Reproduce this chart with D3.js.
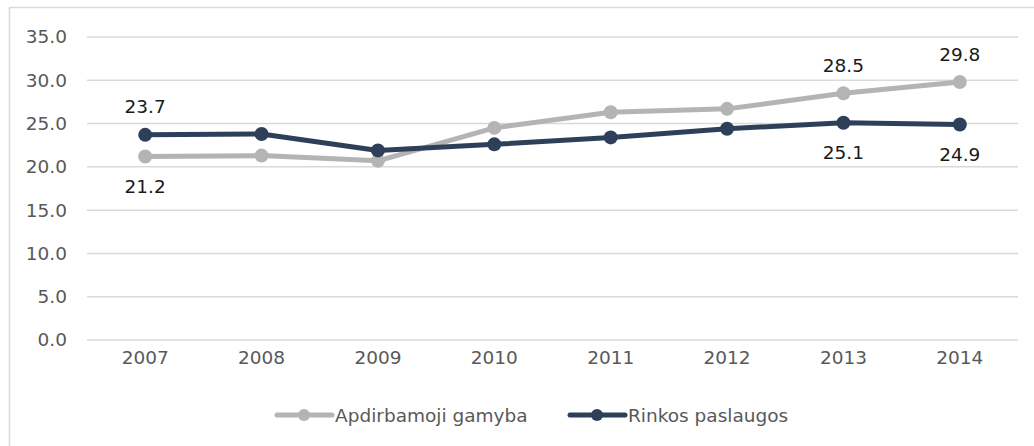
<!DOCTYPE html>
<html>
<head>
<meta charset="utf-8">
<script src="https://cdn.jsdelivr.net/npm/d3@7"></script>
<style>
  body { margin: 0; background: #fff; }
  svg text { font-family: "DejaVu Sans", sans-serif; }
</style>
</head>
<body>
<div class="vis-holder"></div>
<script>
// years on the x axis
var years = ["2007", "2008", "2009", "2010", "2011", "2012", "2013", "2014"];
// series values
var gamyba = [21.2, 21.3, 20.7, 24.5, 26.3, 26.7, 28.5, 29.8];
var paslaugos = [23.7, 23.8, 21.9, 22.6, 23.4, 24.4, 25.1, 24.9];
// y axis ticks
var yTicks = [0, 5, 10, 15, 20, 25, 30, 35];
// which points get a value label, and where
var gamybaLabels = { "2007": "below", "2013": "above", "2014": "above" };
var paslaugosLabels = { "2007": "above", "2013": "below", "2014": "below" };

var seriesNames = ["Apdirbamoji gamyba", "Rinkos paslaugos"];
var seriesColors = ["#b4b4b4", "#2e3f59"];

// svg width
var width = 1034;
// svg height
var height = 446;
var margin = { top: 37, bottom: 106, left: 87, right: 16 };
var fontSize = "18.5px";

var svg = d3.select(".vis-holder")
            .append("svg")
            .attr("width", width)
            .attr("height", height);

// outer frame (right and bottom edges run off the picture)
svg.append("rect")
   .attr("x", 9.5).attr("y", 7.5)
   .attr("width", 1040).attr("height", 460)
   .attr("fill", "none")
   .attr("stroke", "#d9d9d9")
   .attr("stroke-width", 1.5);

var xScale = d3.scaleBand()
               .domain(years)
               .range([margin.left, width - margin.right]);

var yScale = d3.scaleLinear()
               .domain([0, 35])
               .range([height - margin.bottom, margin.top]);

// horizontal grid lines
svg.append("g")
   .selectAll("line")
   .data(yTicks)
   .enter()
   .append("line")
   .attr("x1", margin.left)
   .attr("x2", width - margin.right)
   .attr("y1", function(d) { return yScale(d); })
   .attr("y2", function(d) { return yScale(d); })
   .attr("stroke", "#d9d9d9")
   .attr("stroke-width", 1.5);

// y axis labels
var yAxis = svg.append("g")
               .attr("transform", "translate(" + (margin.left - 8) + ",0)")
               .call(d3.axisLeft(yScale).tickValues(yTicks).tickFormat(d3.format(".1f")).tickSize(0).tickPadding(12));
yAxis.select(".domain").remove();
yAxis.selectAll("text").attr("fill", "#595959").style("font-size", fontSize);

// x axis labels
var xAxis = svg.append("g")
               .attr("transform", "translate(0," + (height - margin.bottom) + ")")
               .call(d3.axisBottom(xScale).tickSize(0).tickPadding(11));
xAxis.select(".domain").remove();
xAxis.selectAll("text").attr("fill", "#595959").style("font-size", fontSize);

function drawSeries(values, color, labels) {
  var pts = years.map(function(y, i) { return { year: y, v: values[i] }; });
  var line = d3.line()
               .x(function(d) { return xScale(d.year) + xScale.bandwidth() / 2; })
               .y(function(d) { return yScale(d.v); });
  svg.append("path")
     .attr("d", line(pts))
     .attr("fill", "none")
     .attr("stroke", color)
     .attr("stroke-width", 5)
     .attr("stroke-linejoin", "round");
  svg.append("g")
     .selectAll("circle")
     .data(pts)
     .enter()
     .append("circle")
     .attr("cx", function(d) { return xScale(d.year) + xScale.bandwidth() / 2; })
     .attr("cy", function(d) { return yScale(d.v); })
     .attr("r", 7)
     .attr("fill", color);
  svg.append("g")
     .selectAll("text")
     .data(pts.filter(function(d) { return labels[d.year]; }))
     .enter()
     .append("text")
     .attr("x", function(d) { return xScale(d.year) + xScale.bandwidth() / 2; })
     .attr("y", function(d) { return yScale(d.v) + (labels[d.year] == "above" ? -28 : 30); })
     .attr("text-anchor", "middle")
     .attr("dominant-baseline", "central")
     .attr("fill", "#1a1a1a")
     .style("font-size", fontSize)
     .text(function(d) { return d3.format(".1f")(d.v); });
}

drawSeries(gamyba, seriesColors[0], gamybaLabels);
drawSeries(paslaugos, seriesColors[1], paslaugosLabels);

// legend
var legendX = [277, 570];
var legend = svg.append("g")
                .selectAll("g")
                .data(seriesNames)
                .enter()
                .append("g")
                .attr("transform", function(d, i) { return "translate(" + legendX[i] + ",415)"; });
legend.append("line")
      .attr("x1", 0).attr("x2", 55)
      .attr("stroke", function(d, i) { return seriesColors[i]; })
      .attr("stroke-width", 5)
      .attr("stroke-linecap", "round");
legend.append("circle")
      .attr("cx", 27).attr("r", 6)
      .attr("fill", function(d, i) { return seriesColors[i]; });
legend.append("text")
      .attr("x", 58)
      .attr("dominant-baseline", "central")
      .attr("fill", "#595959")
      .style("font-size", fontSize)
      .text(function(d) { return d; });
</script>
</body>
</html>
